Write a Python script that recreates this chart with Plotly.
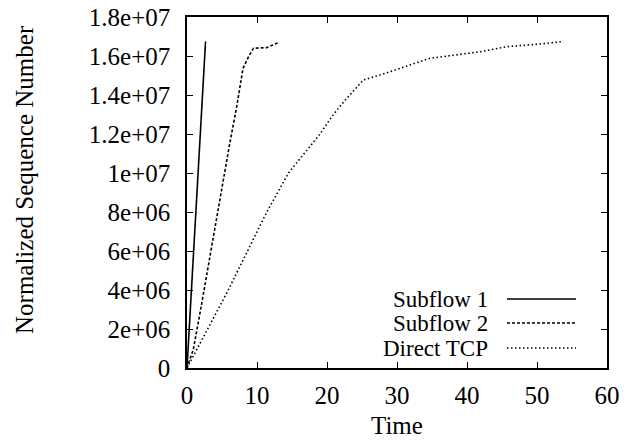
import plotly.graph_objects as go

sub1_x = [0, 2.65]
sub1_y = [0, 16.74e6]

sub2_x = [0, 0.9, 2.0, 3.5, 5.2, 6.1, 7.1, 8.0, 8.8, 9.5, 11.4, 13.0]
sub2_y = [0, 0.95e6, 3.1e6, 6.2e6, 9.5e6, 11.5e6, 13.4e6, 15.36e6, 15.97e6, 16.4e6, 16.43e6, 16.68e6]

tcp_x = [0, 5.9, 11.4, 14.5, 19.0, 20.7, 22.5, 25.2, 27.6, 30.4, 34.7, 41.9, 45.7, 50.0, 53.4]
tcp_y = [0, 4.0e6, 8.0e6, 10.0e6, 12.0e6, 12.9e6, 13.7e6, 14.77e6, 15.03e6, 15.37e6, 15.88e6, 16.22e6, 16.48e6, 16.6e6, 16.73e6]

names = ["Subflow 1", "Subflow 2", "Direct TCP"]
dashes = ["solid", "3px,2px", "1.5px,2.5px"]

y_ticks = [0, 2e6, 4e6, 6e6, 8e6, 1e7, 1.2e7, 1.4e7, 1.6e7, 1.8e7]
y_labels = ["0", "2e+06", "4e+06", "6e+06", "8e+06", "1e+07", "1.2e+07", "1.4e+07", "1.6e+07", "1.8e+07"]
x_ticks = [0, 10, 20, 30, 40, 50, 60]

FONT = "Liberation Serif"
FS = 25
L, R, T, B = 187, 607, 17, 368
PW, PH = R - L, B - T


def px(xp):
    return (xp - L) / PW


def py(yp):
    return (B - yp) / PH


fig = go.Figure()
for xs, ys, nm, ds in zip([sub1_x, sub2_x, tcp_x], [sub1_y, sub2_y, tcp_y], names, dashes):
    fig.add_trace(go.Scatter(x=xs, y=ys, mode="lines", name=nm, showlegend=False,
                             line=dict(color="black", width=1.6, dash=ds)))

# custom gnuplot-style legend (text on the left, sample on the right)
leg_y = [299, 323, 348]
for nm, ds, yy in zip(names, dashes, leg_y):
    fig.add_annotation(xref="paper", yref="paper", x=px(489), y=py(yy), text=nm,
                       showarrow=False, xanchor="right", yanchor="middle", borderpad=0,
                       font=dict(family=FONT, size=23, color="black"))
    fig.add_shape(type="line", xref="paper", yref="paper",
                  x0=px(507), x1=px(576), y0=py(yy), y1=py(yy),
                  line=dict(color="black", width=1.6, dash=ds))

# axis titles
fig.add_annotation(xref="paper", yref="paper", x=0.5, y=py(440), text="Time",
                   showarrow=False, xanchor="center", yanchor="bottom", borderpad=0,
                   font=dict(family=FONT, size=FS, color="black"))
fig.add_annotation(xref="paper", yref="paper", x=px(24), y=py(180), text="Normalized Sequence Number",
                   showarrow=False, xanchor="center", yanchor="middle", textangle=-90,
                   font=dict(family=FONT, size=FS, color="black"))

fig.update_layout(
    width=631, height=441,
    margin=dict(l=L, r=631 - R, t=T, b=441 - B, autoexpand=False),
    paper_bgcolor="white", plot_bgcolor="white",
    font=dict(family=FONT, size=FS, color="black"),
    showlegend=False,
)
fig.update_xaxes(range=[0, 60], tickvals=x_ticks, showgrid=False, zeroline=False,
                 showline=True, linecolor="black", linewidth=1.5, mirror="ticks",
                 ticks="inside", ticklen=6, tickcolor="black", automargin=False,
                 ticklabelstandoff=4)
fig.update_yaxes(range=[0, 1.8e7], tickvals=y_ticks, ticktext=y_labels, showgrid=False, zeroline=False,
                 showline=True, linecolor="black", linewidth=1.5, mirror="ticks",
                 ticks="inside", ticklen=6, tickcolor="black", automargin=False,
                 ticklabelstandoff=10)

fig.write_html("out.html")
